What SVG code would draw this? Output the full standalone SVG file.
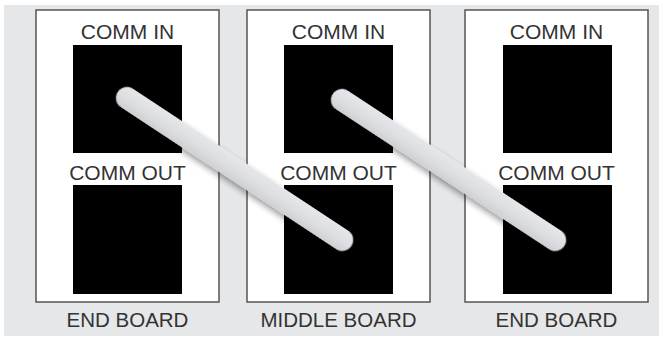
<svg xmlns="http://www.w3.org/2000/svg" width="663" height="337" viewBox="0 0 663 337">
<style>
.board{fill:#fff;stroke:#5b5353;stroke-width:1.5}
.port{fill:#000}
.lbl{font-family:"Liberation Sans",Arial,sans-serif;font-size:21px;fill:#333;text-anchor:middle}
.blbl{font-family:"Liberation Sans",Arial,sans-serif;font-size:20.5px;fill:#333;text-anchor:middle}
.stick{fill:url(#sg);filter:url(#sh)}
</style>
<defs>
<linearGradient id="sg" x1="0" y1="0" x2="0" y2="1">
<stop offset="0" stop-color="#e6e7ea"/>
<stop offset="0.6" stop-color="#dcdde0"/>
<stop offset="1" stop-color="#cfd0d3"/>
</linearGradient>
<filter id="sh" x="-20%" y="-50%" width="140%" height="200%">
<feGaussianBlur in="SourceAlpha" stdDeviation="3"/>
<feOffset dx="2" dy="3" result="b"/>
<feComponentTransfer><feFuncA type="linear" slope="0.4"/></feComponentTransfer>
<feMerge><feMergeNode/><feMergeNode in="SourceGraphic"/></feMerge>
</filter>
</defs>
<rect x="4" y="5" width="655" height="331" fill="#e6e7e8"/>
<g id="end-board-left">
<rect class="board" x="36" y="10" width="183" height="292"/>
<text class="lbl" x="127.5" y="38.5">COMM IN</text>
<rect class="port" x="73" y="45" width="109" height="108"/>
<text class="lbl" x="127.5" y="180">COMM OUT</text>
<rect class="port" x="73" y="185" width="109" height="109"/>
<text class="blbl" x="127.5" y="327">END BOARD</text>
</g>
<g id="middle-board">
<rect class="board" x="247" y="10" width="183" height="292"/>
<text class="lbl" x="338.5" y="38.5">COMM IN</text>
<rect class="port" x="284" y="45" width="109" height="108"/>
<text class="lbl" x="338.5" y="180">COMM OUT</text>
<rect class="port" x="284" y="185" width="109" height="109"/>
<text class="blbl" x="338.5" y="327">MIDDLE BOARD</text>
</g>
<g id="end-board-right">
<rect class="board" x="465" y="10" width="183" height="292"/>
<text class="lbl" x="556.5" y="38.5">COMM IN</text>
<rect class="port" x="503" y="45" width="109" height="108"/>
<text class="lbl" x="556.5" y="180">COMM OUT</text>
<rect class="port" x="503" y="185" width="109" height="109"/>
<text class="blbl" x="556.5" y="327">END BOARD</text>
</g>
<g id="connectors">
<rect class="stick" transform="translate(127,98) rotate(33.4)" x="-11" y="-11" width="279.7" height="22" rx="11"/>
<rect class="stick" transform="translate(342,100) rotate(33.3)" x="-11" y="-11" width="276.9" height="22" rx="11"/>
</g>
</svg>
